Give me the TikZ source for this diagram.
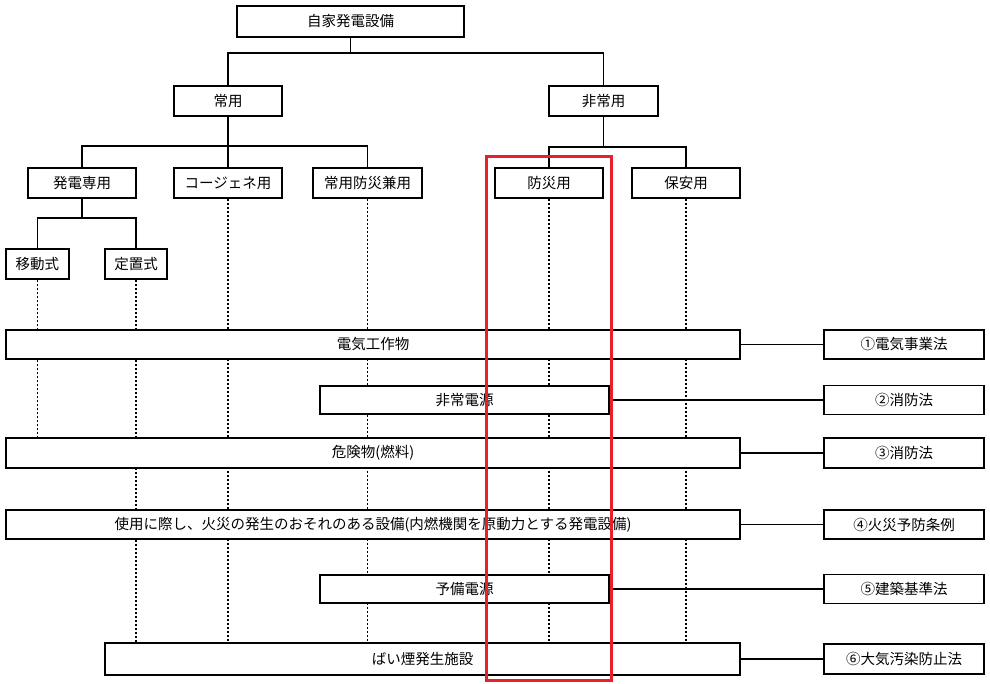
\documentclass[tikz,border=0pt]{standalone}
\usepackage{fontspec}
\setmainfont{Noto Sans CJK JP}
\usepackage{tikz}
\usetikzlibrary{backgrounds}
\definecolor{redbox}{HTML}{E8202A}
\tikzset{bx/.style={draw=black,line width=1.3pt,fill=white,inner sep=0pt,minimum height=30pt,font=\fontsize{14.5}{16}\selectfont}}
\tikzset{ln/.style={black,line width=1.1pt}}
\tikzset{dl/.style={black,line width=1.3pt,dash pattern=on 2pt off 2pt}}

\begin{document}
\begin{tikzpicture}[x=1pt,y=-1pt]
\useasboundingbox (0,0) rectangle (990,684);
% tree
\node[bx,minimum width=227pt,minimum height=31pt] (root) at (350.5,21.5) {自家発電設備};
\node[bx,minimum width=108pt] (jo) at (228,101) {常用}; \node[bx,minimum width=109pt] (hijo) at (603.5,101) {非常用};
\node[bx,minimum width=108pt] (hs) at (82,183) {発電専用}; \node[bx,minimum width=108pt] (cg) at (228,183) {コージェネ用};
\node[bx,minimum width=109pt] (jb) at (367.5,183) {常用防災兼用};
\node[bx,minimum width=108pt] (bs) at (549,183) {防災用}; \node[bx,minimum width=108pt] (ha) at (686,183) {保安用};
\node[bx,minimum width=63pt] (id) at (37.5,264) {移動式}; \node[bx,minimum width=62pt] (ts) at (136,264) {定置式};
\coordinate (r1) at (350.5,53); \coordinate (c1) at (228,146);
\coordinate (c2) at (603.5,147); \coordinate (c3) at (82,218);
\draw[ln] (root) -- (r1); \draw[ln] (jo.north) |- (r1) -| (hijo.north);
\draw[ln] (jo) -- (c1); \draw[ln] (hs.north) |- (c1) -| (jb.north); \draw[ln] (c1) -- (cg.north);
\draw[ln] (hijo) -- (c2); \draw[ln] (bs.north) |- (c2) -| (ha.north);
\draw[ln] (hs) -- (c3); \draw[ln] (id.north) |- (c3) -| (ts.north);
% bars
\node[bx,minimum width=734pt,minimum height=29pt] (b1) at (373,344.5) {電気工作物};
\node[bx,minimum width=289pt,minimum height=28pt] (b2) at (464.5,400) {非常電源};
\node[bx,minimum width=734pt] (b3) at (373,453) {危険物(燃料)};
\node[bx,minimum width=734pt,minimum height=29pt] (b4) at (373,524.5) {使用に際し、火災の発生のおそれのある設備(内燃機関を原動力とする発電設備)};
\node[bx,minimum width=289pt,minimum height=28pt] (b5) at (464.5,589) {予備電源};
\node[bx,minimum width=635pt,minimum height=32pt] (b6) at (422.5,659) {ばい煙発生施設};
% laws
\node[bx,minimum width=160pt,minimum height=29pt] (l1) at (904,344.5) {①電気事業法};
\node[bx,minimum width=160pt,minimum height=29pt] (l2) at (904,400) {②消防法};
\node[bx,minimum width=160pt] (l3) at (904,453) {③消防法};
\node[bx,minimum width=160pt,minimum height=29pt] (l4) at (904,524.5) {④火災予防条例};
\node[bx,minimum width=160pt,minimum height=29pt] (l5) at (904,589) {⑤建築基準法};
\node[bx,minimum width=160pt] (l6) at (904,659) {⑥大気汚染防止法};
\foreach \i in {1,...,6} \draw[ln] (b\i.east) -- (l\i.west);
\begin{scope}[on background layer]
\draw[dl] (id.south) -- (id.south |- b3.north);
\foreach \n in {ts,cg,jb,bs,ha} \draw[dl] (\n.south) -- (\n.south |- b6.north);
\end{scope}
\draw[redbox,line width=3pt] (486,157) rectangle (611,680);
\end{tikzpicture}
\end{document}
